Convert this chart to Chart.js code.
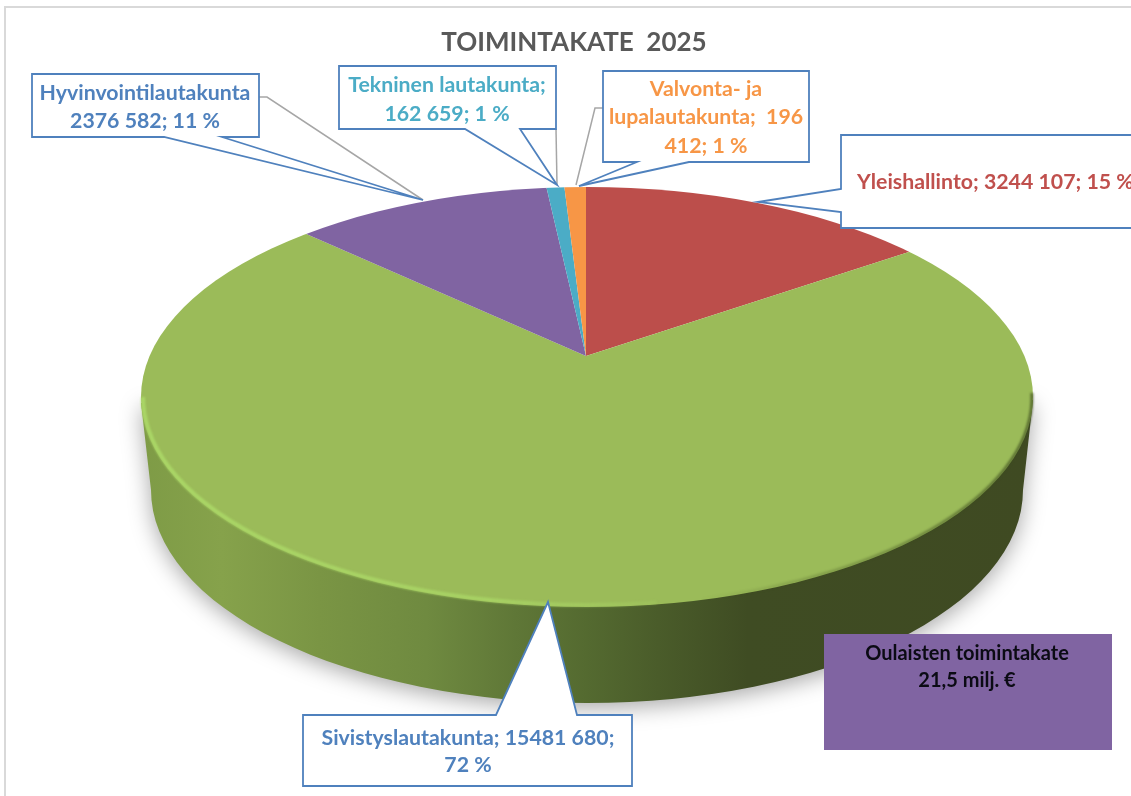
<!DOCTYPE html>
<html lang="fi">
<head>
<meta charset="utf-8">
<title>Toimintakate 2025</title>
<style>html,body{margin:0;padding:0;background:#fff;overflow:hidden}canvas{display:block}</style>
<script src="https://cdn.jsdelivr.net/npm/chart.js@4"></script>
</head>
<body>
<canvas id="c" width="1131" height="796"></canvas>
<script>
const categories = ['Yleishallinto', 'Sivistyslautakunta', 'Hyvinvointilautakunta', 'Tekninen lautakunta', 'Valvonta- ja lupalautakunta'];
const values = [3244107, 15481680, 2376582, 162659, 196412];
const sliceColors = ['#BC4E4B', '#9BBB59', '#8064A2', '#4BACC6', '#F79646'];
const titleText = 'TOIMINTAKATE  2025';

const FONT = 'Lato, "Open Sans", sans-serif';
const BLUE = '#4F81BD';
const labels = [
  { lines: ['Yleishallinto; 3244 107; 15 %'], color: '#C0504D', align: 'left', x: 857, ys: [182],
    poly: [[841,135],[1145,135],[1145,228],[841,228],[841,212],[758,202],[841,189]] },
  { lines: ['Sivistyslautakunta; 15481 680;', '72 %'], color: BLUE, align: 'center', x: 468, ys: [738,765],
    poly: [[303,715],[496,715],[548,602],[577,715],[632,715],[632,786],[303,786]] },
  { lines: ['Hyvinvointilautakunta', '2376 582; 11 %'], color: BLUE, align: 'center', x: 145, ys: [93,121],
    poly: [[32,74],[259,74],[259,137],[222,137],[423,200],[164,137],[32,137]],
    leader: [[259,97],[267,97],[423,200]] },
  { lines: ['Tekninen lautakunta;', '162 659; 1 %'], color: '#4BACC6', align: 'center', x: 447, ys: [85,114],
    poly: [[339,66],[556,66],[556,129],[520,129],[557,185],[465,129],[339,129]],
    leader: [[556,129],[557,185]] },
  { lines: ['Valvonta- ja', 'lupalautakunta;  196', '412; 1 %'], color: '#F79646', align: 'center', x: 706, ys: [89,117,146],
    poly: [[603,71],[809,71],[809,162],[689,162],[579,186],[637,162],[603,162]],
    leader: [[603,108],[595,108],[576,185]] }
];
const note = { lines: ['Oulaisten toimintakate', '21,5 milj. €'], ys: [654,681], x: 967, rect: [824,634,288,116], fill: '#8064A2' };

const APEX = { x: 586, y: 356, k: 0.45 };
const TOP = { x: 587, y: 397, rx: 446, ry: 210 };
const BASE = { x: 587, y: 490, rx: 436, ry: 213 };

function topPath(ctx){ ctx.beginPath(); ctx.ellipse(TOP.x,TOP.y,TOP.rx,TOP.ry,0,0,Math.PI*2); }

function drawWall(ctx){
  const g = ctx.createLinearGradient(141,0,1033,0);
  [[0,'#7E9B46'],[0.09,'#86A24B'],[0.2,'#7A9544'],[0.32,'#6F8A40'],[0.42,'#5F7737'],[0.5,'#546A30'],[0.58,'#4A5C2A'],[0.68,'#3F4C23'],[1,'#3F4A22']]
    .forEach(s=>g.addColorStop(s[0],s[1]));
  ctx.save();
  ctx.shadowColor='rgba(0,0,0,0.34)'; ctx.shadowBlur=22; ctx.shadowOffsetX=0; ctx.shadowOffsetY=5;
  ctx.fillStyle=g;
  ctx.beginPath();
  ctx.moveTo(141,TOP.y+6);
  ctx.lineTo(BASE.x-BASE.rx,BASE.y);
  ctx.ellipse(BASE.x,BASE.y,BASE.rx,BASE.ry,0,Math.PI,0,true);
  ctx.lineTo(1033,TOP.y+3);
  ctx.closePath();
  ctx.fill();
  ctx.restore();
}

function drawRim(ctx){
  const hi = ctx.createLinearGradient(141,0,720,0);
  hi.addColorStop(0,'rgba(172,218,104,0.9)');
  hi.addColorStop(0.6,'rgba(172,218,104,0.75)');
  hi.addColorStop(1,'rgba(172,218,104,0)');
  ctx.save();
  ctx.lineWidth=4;
  ctx.strokeStyle=hi;
  ctx.filter='blur(1.1px)';
  ctx.beginPath();
  ctx.ellipse(TOP.x,TOP.y,TOP.rx-2,TOP.ry-2,0,Math.PI*0.45,Math.PI*1.0);
  ctx.stroke();
  const dk = ctx.createLinearGradient(700,0,1033,0);
  dk.addColorStop(0,'rgba(60,75,30,0)');
  dk.addColorStop(1,'rgba(60,75,30,0.7)');
  ctx.strokeStyle=dk;
  ctx.lineWidth=3;
  ctx.beginPath();
  ctx.ellipse(TOP.x,TOP.y,TOP.rx-1,TOP.ry-1,0,-0.02,Math.PI*0.42);
  ctx.stroke();
  ctx.restore();
}

function drawLabels(ctx){
  ctx.save();
  labels.forEach(l=>{
    if(!l.leader) return;
    ctx.strokeStyle='#A6A6A6'; ctx.lineWidth=1.5;
    ctx.beginPath();
    l.leader.forEach((p,i)=> i?ctx.lineTo(p[0],p[1]):ctx.moveTo(p[0],p[1]));
    ctx.stroke();
  });
  labels.forEach(l=>{
    ctx.fillStyle='#fff'; ctx.strokeStyle=BLUE; ctx.lineWidth=1.8; ctx.lineJoin='miter';
    ctx.beginPath();
    l.poly.forEach((p,i)=> i?ctx.lineTo(p[0],p[1]):ctx.moveTo(p[0],p[1]));
    ctx.closePath(); ctx.fill(); ctx.stroke();
    ctx.fillStyle=l.color;
    ctx.font='bold 21.3px '+FONT;
    ctx.textAlign=l.align; ctx.textBaseline='middle';
    l.lines.forEach((t,i)=>ctx.fillText(t,l.x,l.ys[i]));
  });
  const r=note.rect;
  ctx.fillStyle=note.fill; ctx.fillRect(r[0],r[1],r[2],r[3]);
  ctx.fillStyle='#0B0B14'; ctx.font='bold 20px '+FONT; ctx.textAlign='center'; ctx.textBaseline='middle';
  note.lines.forEach((t,i)=>ctx.fillText(t,note.x,note.ys[i]));
  ctx.restore();
}

const pie3d = {
  id:'pie3d',
  beforeDatasetsDraw(chart){
    const ctx=chart.ctx;
    ctx.save();
    ctx.strokeStyle='#D9D9D9'; ctx.lineWidth=2;
    ctx.strokeRect(5,7,1300,1000);
    ctx.restore();
    drawWall(ctx);
    const arc=chart.getDatasetMeta(0).data[0];
    const s=1200/arc.outerRadius;
    ctx.save();
    topPath(ctx); ctx.clip();
    ctx.translate(APEX.x,APEX.y);
    ctx.scale(s,s*APEX.k);
    ctx.translate(-arc.x,-arc.y);
  },
  afterDatasetsDraw(chart){
    const ctx=chart.ctx;
    ctx.restore();
    drawRim(ctx);
    drawLabels(ctx);
  }
};

new Chart(document.getElementById('c'),{
  type:'pie',
  data:{ labels:categories, datasets:[{ data:values, backgroundColor:sliceColors, borderWidth:0, hoverOffset:0 }] },
  options:{
    responsive:false, animation:false, events:[],
    layout:{ padding:{ left:17, top:27 } },
    plugins:{
      legend:{ display:false }, tooltip:{ enabled:false },
      title:{ display:true, text:titleText, color:'#595959', align:'center',
              font:{ family:FONT, size:26, weight:'bold' }, padding:{ top:0, bottom:8 } }
    }
  },
  plugins:[pie3d]
});
</script>
</body>
</html>
